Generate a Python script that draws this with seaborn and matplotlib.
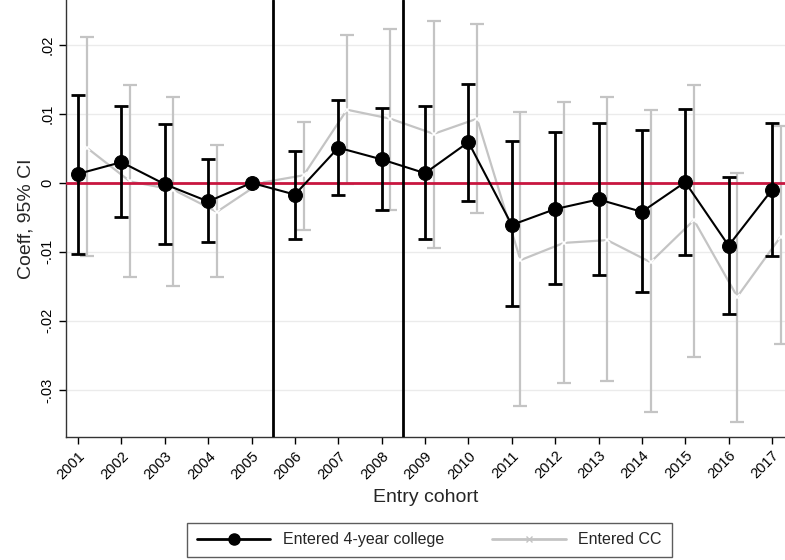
import numpy as np
import pandas as pd
import seaborn as sns
import matplotlib.pyplot as plt
from matplotlib.lines import Line2D

# --- dati ---
years = list(range(2001, 2018))

coef_4yr = [0.0013, 0.0030, -0.0002, -0.0027, 0.0, -0.0017, 0.0051, 0.0034, 0.0014,
            0.0059, -0.0061, -0.0038, -0.0024, -0.0042, 0.0001, -0.0091, -0.0010]
hi_4yr = [0.0128, 0.0111, 0.0085, 0.0034, np.nan, 0.0046, 0.0120, 0.0109, 0.0111,
          0.0143, 0.0060, 0.0073, 0.0087, 0.0076, 0.0107, 0.0008, 0.0087]
lo_4yr = [-0.0103, -0.0050, -0.0089, -0.0086, np.nan, -0.0082, -0.0018, -0.0040, -0.0081,
          -0.0026, -0.0178, -0.0146, -0.0133, -0.0158, -0.0105, -0.0190, -0.0106]

coef_cc = [0.0051, 0.0002, -0.0010, -0.0042, 0.0, 0.0011, 0.0106, 0.0093, 0.0071,
           0.0093, -0.0112, -0.0087, -0.0083, -0.0115, -0.0054, -0.0165, -0.0078]
hi_cc = [0.0211, 0.0142, 0.0125, 0.0055, np.nan, 0.0088, 0.0215, 0.0223, 0.0234,
         0.0230, 0.0102, 0.0117, 0.0124, 0.0106, 0.0142, 0.0014, 0.0083]
lo_cc = [-0.0106, -0.0137, -0.0149, -0.0137, np.nan, -0.0068, -0.0002, -0.0040, -0.0095,
         -0.0044, -0.0324, -0.0290, -0.0287, -0.0332, -0.0252, -0.0347, -0.0233]

policy_breaks = [2005.5, 2008.5]
ytick_vals = [0.02, 0.01, 0.0, -0.01, -0.02, -0.03]
ytick_labels = ['.02', '.01', '0', '-.01', '-.02', '-.03']

sns.set_style("white")
plt.rcParams['font.family'] = ['Liberation Sans', 'DejaVu Sans']

df_4 = pd.DataFrame({'anno': years, 'coef': coef_4yr, 'lo': lo_4yr, 'hi': hi_4yr})
df_cc = pd.DataFrame({'anno': np.array(years) + 0.2, 'coef': coef_cc, 'lo': lo_cc, 'hi': hi_cc})

fig = plt.figure(figsize=(7.85, 5.6), dpi=100)
ax = fig.add_axes([0.084, 0.22, 0.916, 0.78])

grigio = '#c4c4c4'

# griglia orizzontale
for v in ytick_vals:
    ax.axhline(v, color='#ebebeb', lw=1, zorder=0)

# serie CC (grigia, spostata a destra)
m = df_cc['hi'].notna()
ax.errorbar(df_cc.loc[m, 'anno'], df_cc.loc[m, 'coef'],
            yerr=[df_cc.loc[m, 'coef'] - df_cc.loc[m, 'lo'], df_cc.loc[m, 'hi'] - df_cc.loc[m, 'coef']],
            fmt='none', ecolor=grigio, elinewidth=1.6, capsize=5, capthick=1.6, zorder=2)
sns.lineplot(data=df_cc, x='anno', y='coef', ax=ax, color=grigio, lw=1.6,
             marker='x', markersize=5, markeredgewidth=1.2, zorder=2)

# linea rossa a zero
ax.axhline(0, color='#c8163f', lw=2, zorder=3)

# serie 4-year (nera)
m = df_4['hi'].notna()
ax.errorbar(df_4.loc[m, 'anno'], df_4.loc[m, 'coef'],
            yerr=[df_4.loc[m, 'coef'] - df_4.loc[m, 'lo'], df_4.loc[m, 'hi'] - df_4.loc[m, 'coef']],
            fmt='none', ecolor='black', elinewidth=2, capsize=5, capthick=2, zorder=4)
sns.lineplot(data=df_4, x='anno', y='coef', ax=ax, color='black', lw=1.5,
             marker='o', markersize=10, markeredgecolor='black', zorder=5)

for b in policy_breaks:
    ax.axvline(b, color='black', lw=2, zorder=6)

ax.set_xlim(2000.72, 2017.3)
ax.set_ylim(-0.0368, 0.0265)
ax.set_xticks(years)
ax.set_xticklabels([str(y) for y in years], rotation=45, ha='right',
                   rotation_mode='anchor', fontsize=10.5)
ax.set_yticks(ytick_vals)
ax.set_yticklabels(ytick_labels, rotation=90, va='center', fontsize=10.5)
ax.tick_params(axis='both', direction='out', length=5, width=1, colors='black', bottom=True, left=True)
ax.set_xlabel('Entry cohort', fontsize=14, labelpad=5)
ax.set_ylabel('Coeff, 95% CI', fontsize=14, labelpad=4)

for s in ['top', 'right']:
    ax.spines[s].set_visible(False)
for s in ['left', 'bottom']:
    ax.spines[s].set_color('#333333')
    ax.spines[s].set_linewidth(1)

handles = [
    Line2D([0], [0], color='black', lw=2, marker='o', markersize=8),
    Line2D([0], [0], color=grigio, lw=2, marker='x', markersize=4),
]
leg = fig.legend(handles, ['Entered 4-year college', 'Entered CC'], loc='center',
                 bbox_to_anchor=(0.547, 0.036), ncol=2, frameon=True, fancybox=False,
                 edgecolor='#333333', fontsize=11.5, handlelength=4.6, columnspacing=3.0,
                 borderpad=0.6)
leg.get_frame().set_linewidth(1)

fig.savefig('out.png', dpi=100)
plt.close()
